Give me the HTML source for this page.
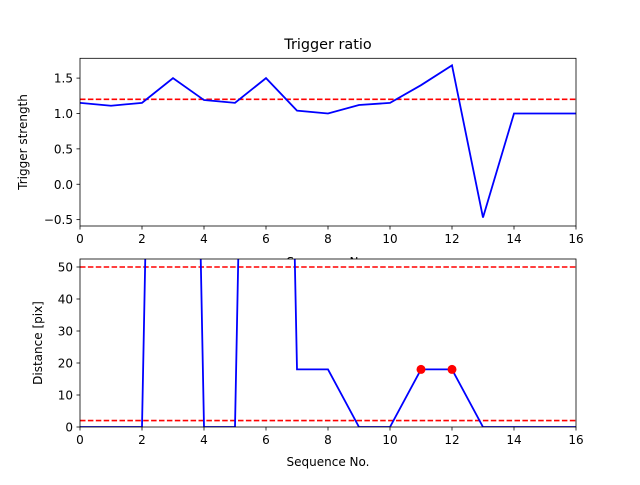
<!DOCTYPE html>
<html><head><meta charset="utf-8"><style>
body{margin:0;background:#fff;}
text{font-family:"DejaVu Sans","Liberation Sans",sans-serif;fill:#000;}
</style></head><body>
<svg id="c" width="640" height="480" xmlns="http://www.w3.org/2000/svg"></svg>
<script>
const seqX=[0,1,2,3,4,5,6,7,8,9,10,11,12,13,14,15,16];
const ratioValues=[1.15,1.11,1.15,1.5,1.19,1.15,1.5,1.04,1.0,1.12,1.15,1.4,1.68,-0.47,1.0,1.0,1.0];
const ratioThreshold=[1.2];
const distValues=[0,0,0,500,0,0,500,18,18,0,0,18,18,0,0,0,0];
const distThresholds=[50,2];
const distMarkedX=[11,12];
const xTicks=[0,2,4,6,8,10,12,14,16];
const topYTicks=[1.5,1.0,0.5,0.0,-0.5];
const botYTicks=[0,10,20,30,40,50];
const NS="http://www.w3.org/2000/svg";
const svg=document.getElementById('c');
function el(t,a,p){const e=document.createElementNS(NS,t);for(const k in a)e.setAttribute(k,a[k]);(p||svg).appendChild(e);return e;}
const L=80,R=576;
const xs=v=>L+(v-0)/(16-0)*(R-L);
function panel(top,bot,ymin,ymax,ticks,fmt,name){
  const ys=v=>bot-(v-ymin)/(ymax-ymin)*(bot-top);
  const g=el('g',{});
  
  
  el('rect',{x:L,y:top,width:R-L,height:bot-top,fill:'#fff'},g);
  const cid='clip'+name;
  const cp=el('clipPath',{id:cid},g);el('rect',{x:L,y:top,width:R-L,height:bot-top},cp);
  const plot=el('g',{'clip-path':'url(#'+cid+')'},g);
  xTicks.forEach(t=>{const x=xs(t);const tk=el('line',{x1:x,x2:x,y1:bot,y2:bot+3.5,stroke:'#000','stroke-width':0.8},g);
    
    const tx=el('text',{x:x,y:bot+17,'text-anchor':'middle','font-size':12},g);tx.textContent=t;
    });
  ticks.forEach(t=>{const y=ys(t);el('line',{x1:L-3.5,x2:L,y1:y,y2:y,stroke:'#000','stroke-width':0.8},g);
    const tx=el('text',{x:L-7,y:y+4.5,'text-anchor':'end','font-size':12},g);tx.textContent=fmt(t);
    });
  return {g,plot,ys};
}
// top
const P1=panel(58.3,226,-0.59,1.78,topYTicks,t=>t.toFixed(1).replace('-','−'),'ratio-panel');
ratioThreshold.forEach(v=>{const l=el('line',{x1:L,x2:R,y1:P1.ys(v),y2:P1.ys(v),stroke:'#f00','stroke-width':1.6,'stroke-dasharray':'5.5,2.4'},P1.plot);
  });
const l1=el('polyline',{points:seqX.map((x,i)=>xs(x)+','+P1.ys(ratioValues[i])).join(' '),fill:'none',stroke:'#00f','stroke-width':1.8},P1.plot);

el('rect',{x:L,y:58.3,width:R-L,height:226-58.3,fill:'none',stroke:'#000','stroke-width':0.8},P1.g);
let t=el('text',{x:328,y:49,'text-anchor':'middle','font-size':14.4});t.textContent='Trigger ratio';

t=el('text',{x:0,y:0,'text-anchor':'middle','font-size':12,transform:'translate(27,142) rotate(-90)'});t.textContent='Trigger strength';

t=el('text',{x:328,y:266,'text-anchor':'middle','font-size':12});t.textContent='Sequence No.';

// bottom
const P2=panel(259,427,0,52.5,botYTicks,t=>t,'distance-panel');
distThresholds.forEach(v=>{const l=el('line',{x1:L,x2:R,y1:P2.ys(v),y2:P2.ys(v),stroke:'#f00','stroke-width':1.6,'stroke-dasharray':'5.5,2.4'},P2.plot);
  });
const l2=el('polyline',{points:seqX.map((x,i)=>xs(x)+','+P2.ys(distValues[i])).join(' '),fill:'none',stroke:'#00f','stroke-width':1.8},P2.plot);

distMarkedX.forEach(x=>{const c=el('circle',{cx:xs(x),cy:P2.ys(distValues[seqX.indexOf(x)]),r:4.5,fill:'#f00'},P2.g);
  });
el('rect',{x:L,y:259,width:R-L,height:168,fill:'none',stroke:'#000','stroke-width':0.8},P2.g);
t=el('text',{x:0,y:0,'text-anchor':'middle','font-size':12,transform:'translate(42,343) rotate(-90)'});t.textContent='Distance [pix]';

t=el('text',{x:328,y:466,'text-anchor':'middle','font-size':12});t.textContent='Sequence No.';

</script>
</body></html>
